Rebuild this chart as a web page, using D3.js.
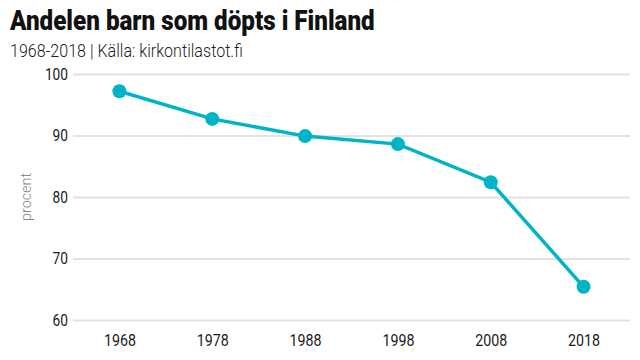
<!DOCTYPE html>
<html><head><meta charset="utf-8">
<script src="https://cdn.jsdelivr.net/npm/d3@7"></script>
<style>body{margin:0;background:#fff}svg{display:block}</style>
</head><body>
<svg id="c" width="640" height="360"></svg>
<script>
const years = ["1968","1978","1988","1998","2008","2018"];
const values = [97.2, 92.7, 89.9, 88.6, 82.4, 65.4];
const yTicks = [60, 70, 80, 90, 100];
const title = "Andelen barn som döpts i Finland";
const subtitle = "1968-2018 | Källa: kirkontilastot.fi";
const yLabel = "procent";

(function(){
const svg = d3.select("#c");
const mLeft = 73, mRight = 630, mTop = 74, mBottom = 320;
const x = d3.scalePoint().domain(years).range([mLeft, mRight]).padding(0.5);
const y = d3.scaleLinear().domain([60, 100]).range([mBottom, mTop]);

function squeeze(sel, x0, y0, w){
  const l = sel.node().getComputedTextLength();
  sel.attr("transform", `translate(${x0},${y0}) scale(${w/l},1)`);
}
const t = svg.append("text").attr("font-family","Roboto, sans-serif")
  .attr("font-weight",900).attr("font-size",27).attr("fill","#111").text(title);
squeeze(t, 10, 30, 365);
const s = svg.append("text").attr("font-family","Roboto, sans-serif")
  .attr("font-weight",300).attr("font-size",18.5).attr("fill","#1a1a1a").text(subtitle);
squeeze(s, 10, 57, 233);

const ya = svg.append("g").attr("transform",`translate(${mLeft},0)`)
  .call(d3.axisLeft(y).tickValues(yTicks).tickSize(-(mRight-mLeft)).tickPadding(5));
ya.select(".domain").remove();
ya.selectAll(".tick line").attr("stroke","#e2e2e2").attr("stroke-width",2);
ya.selectAll(".tick text").attr("font-family","Roboto, sans-serif").attr("font-weight",400)
  .attr("font-size",16).attr("fill","#1a1a1a").attr("textLength",function(){return this.textContent.length*7.7;})
  .attr("lengthAdjust","spacingAndGlyphs");

const xa = svg.append("g").attr("transform",`translate(0,${mBottom})`)
  .call(d3.axisBottom(x).tickSize(0).tickPadding(15));
xa.select(".domain").remove();
xa.selectAll(".tick text").attr("font-family","Roboto, sans-serif").attr("font-weight",400)
  .attr("font-size",16).attr("fill","#1a1a1a").attr("textLength",32).attr("lengthAdjust","spacingAndGlyphs");

svg.append("text").attr("transform",`translate(31,${(mTop+mBottom)/2}) rotate(-90)`)
  .attr("text-anchor","middle").attr("font-family","Roboto, sans-serif").attr("font-weight",300)
  .attr("font-size",15).attr("fill","#888").attr("textLength",48).attr("lengthAdjust","spacingAndGlyphs").text(yLabel);

const data = years.map((d,i)=>({year:d, v:values[i]}));
svg.append("path").datum(data).attr("fill","none").attr("stroke","#00b4c8").attr("stroke-width",3.5)
  .attr("d", d3.line().x(d=>x(d.year)).y(d=>y(d.v)));
svg.selectAll("circle.p").data(data).enter().append("circle").attr("class","p")
  .attr("cx",d=>x(d.year)).attr("cy",d=>y(d.v)).attr("r",7).attr("fill","#00b4c8");
})();
</script>
</body></html>
